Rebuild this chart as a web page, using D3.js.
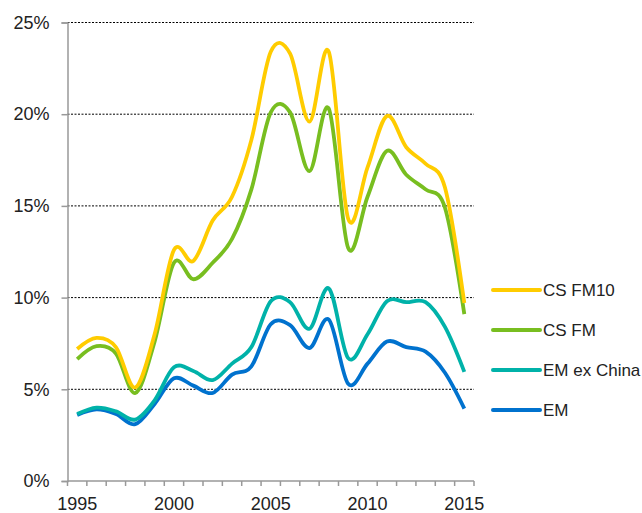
<!DOCTYPE html>
<html>
<head>
<meta charset="utf-8">
<script src="https://cdn.jsdelivr.net/npm/d3@7"></script>
<style>
  body { margin: 0; background: #fff; }
  text { font-family: "Liberation Sans", Arial, sans-serif; font-size: 18px; fill: #222; }
</style>
</head>
<body>
<svg id="chart" width="642" height="513"></svg>
<script>
// data (percent)
var years = d3.range(1995, 2016);
var seriesNames = ["CS FM10", "CS FM", "EM ex China", "EM"];
var seriesColors = ["#ffcc00", "#78be20", "#00b2a9", "#0072ce"];
var csFM10 = [7.2, 7.8, 7.3, 5.1, 8.0, 12.6, 12.0, 14.2, 15.5, 18.6, 23.4, 23.3, 19.6, 23.4, 14.3, 17.1, 19.9, 18.2, 17.3, 16.0, 9.7];
var csFM = [6.65, 7.35, 6.95, 4.8, 7.6, 11.9, 11.0, 11.9, 13.2, 15.9, 20.1, 20.1, 16.9, 20.3, 12.7, 15.5, 18.0, 16.7, 15.9, 14.9, 9.1];
var emExChina = [3.65, 4.0, 3.8, 3.35, 4.4, 6.2, 6.0, 5.5, 6.4, 7.3, 9.8, 9.75, 8.3, 10.5, 6.7, 8.0, 9.8, 9.75, 9.75, 8.4, 5.95];
var em = [3.6, 3.9, 3.65, 3.1, 4.2, 5.6, 5.2, 4.8, 5.8, 6.25, 8.55, 8.5, 7.25, 8.8, 5.3, 6.4, 7.6, 7.3, 7.05, 5.9, 3.95];
var yTicks = [0, 5, 10, 15, 20, 25];
var xLabels = [1995, 2000, 2005, 2010, 2015];

var allSeries = [csFM10, csFM, emExChina, em];

var svg = d3.select("#chart"),
    margin = {top: 22.5, left: 67.5, right: 168, bottom: 32},
    width = 642 - margin.left - margin.right,
    height = 513 - margin.top - margin.bottom;

var g = svg.append("g")
    .attr("transform", "translate(" + margin.left + "," + margin.top + ")");

var x = d3.scaleBand().domain(years).range([0, width]);
var y = d3.scaleLinear().domain([0, 25]).range([height, 0]);

// dotted gridlines
g.selectAll(".grid")
    .data(yTicks.filter(function (d) { return d > 0; }))
    .enter().append("line")
    .attr("class", "grid")
    .attr("x1", 0)
    .attr("x2", width)
    .attr("y1", function (d) { return y(d); })
    .attr("y2", function (d) { return y(d); })
    .attr("stroke", "#000")
    .attr("stroke-width", 1)
    .attr("stroke-dasharray", "2,1.5");

// y axis
var yAxis = g.append("g")
    .call(d3.axisLeft(y).tickValues(yTicks).tickSize(6).tickPadding(12)
        .tickFormat(function (d) { return d + "%"; }));
yAxis.select(".domain").attr("stroke", "#999").attr("stroke-width", 1.5);
yAxis.selectAll(".tick line").attr("stroke", "#999").attr("stroke-width", 1.5);
yAxis.selectAll("text").style("font-size", "18px").attr("fill", "#222");

// x axis: ticks on category boundaries, labels every 5 years
var bounds = d3.range(years.length + 1).map(function (i) { return i * x.step(); });
var xg = g.append("g").attr("transform", "translate(0," + height + ")");
xg.append("line")
    .attr("x1", 0).attr("x2", width)
    .attr("stroke", "#999").attr("stroke-width", 1.5);
xg.selectAll(".xt")
    .data(bounds)
    .enter().append("line")
    .attr("class", "xt")
    .attr("x1", function (d) { return d; })
    .attr("x2", function (d) { return d; })
    .attr("y1", 0).attr("y2", 5)
    .attr("stroke", "#999").attr("stroke-width", 1.5);
xg.selectAll(".xl")
    .data(xLabels)
    .enter().append("text")
    .attr("class", "xl")
    .attr("x", function (d) { return x(d) + x.bandwidth() / 2; })
    .attr("y", 29)
    .attr("text-anchor", "middle")
    .text(function (d) { return d; });

// lines
var line = d3.line()
    .x(function (d, i) { return x(years[i]) + x.bandwidth() / 2; })
    .y(function (d) { return y(d); })
    .curve(d3.curveCardinal.tension(0));

// draw bottom series first so yellow sits on top
for (var k = allSeries.length - 1; k >= 0; k--) {
    g.append("path")
        .datum(allSeries[k])
        .attr("fill", "none")
        .attr("stroke", seriesColors[k])
        .attr("stroke-width", 3.8)
        .attr("stroke-linejoin", "round")
        .attr("d", line);
}

// legend
var legend = svg.append("g").attr("transform", "translate(493,290)");
seriesNames.forEach(function (name, i) {
    var row = legend.append("g").attr("transform", "translate(0," + (i * 40) + ")");
    row.append("line")
        .attr("x1", 0).attr("x2", 47)
        .attr("stroke", seriesColors[i])
        .attr("stroke-width", 4)
        .attr("stroke-linecap", "round");
    row.append("text")
        .attr("x", 50)
        .attr("dy", "0.36em")
        .style("font-size", "17px")
        .text(name);
});
</script>
</body>
</html>
